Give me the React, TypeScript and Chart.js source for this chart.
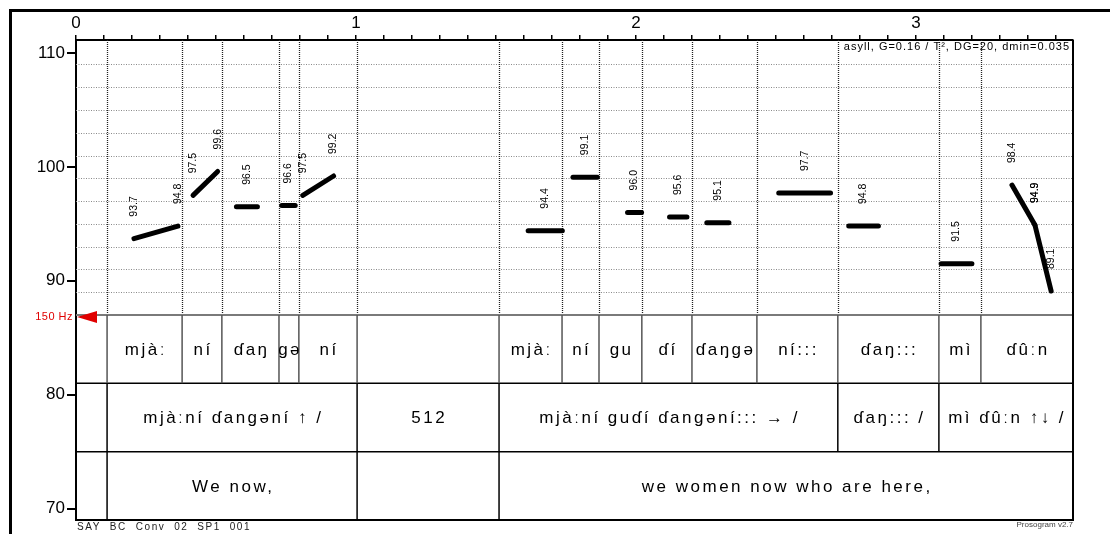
import React, { useEffect, useRef } from 'react';
import { Chart, registerables } from 'chart.js';
Chart.register(...registerables);

// ---- axes ----
const X_MIN = 0;
const X_MAX = 3.561;
const Y_MIN = 69;
const Y_MAX = 111.14;
const yTickValues = [70, 80, 90, 100, 110];
const xMajorLabels = ['0', '1', '2', '3'];
const X_MINOR_STEP = 0.1;
const X_LAST_MINOR = 3.5;

// ---- grid (semitones) ----
const gridST = [89, 91, 93, 95, 97, 99, 101, 103, 105, 107, 109];
const refLineST = 87; // 150 Hz
const refLabel = '150 Hz';
const tierLinesST = [81, 75];

// ---- tier 1: syllables ----
const syllableBounds = [0.111, 0.379, 0.521, 0.725, 0.796, 1.004, 1.511, 1.736, 1.868, 2.021, 2.2, 2.432, 2.721, 3.082, 3.232, 3.561];
const syllableLabels = ['mjàː', 'ní', 'ɗaŋ', 'gə', 'ní', '', 'mjàː', 'ní', 'gu', 'ɗí', 'ɗaŋgə', 'ní:::', 'ɗaŋ:::', 'mì', 'ɗûːn'];

// ---- tier 2: phrases ----
const phraseBounds = [0.111, 1.004, 1.511, 2.721, 3.082, 3.561];
const phraseLabels = ['mjàːní ɗangəní ↑ /', '512', 'mjàːní guɗí ɗangəní::: → /', 'ɗaŋ::: /', 'mì ɗûːn ↑↓ /'];

// ---- tier 3: translation ----
const transBounds = [0.111, 1.004, 1.511, 3.561];
const transLabels = ['We now,', '', 'we women now who are here,'];

// ---- stylized pitch segments ----
const segStartT = [0.207, 0.418, 0.573, 0.735, 0.81, 1.615, 1.775, 1.97, 2.12, 2.253, 2.51, 2.76, 3.09, 3.343, 3.425];
const segEndT = [0.364, 0.506, 0.648, 0.783, 0.92, 1.737, 1.862, 2.02, 2.182, 2.332, 2.695, 2.866, 3.2, 3.425, 3.483];
const segStartST = [93.7, 97.5, 96.5, 96.6, 97.5, 94.4, 99.1, 96.0, 95.6, 95.1, 97.7, 94.8, 91.5, 98.4, 94.9];
const segEndST = [94.8, 99.6, 96.5, 96.6, 99.2, 94.4, 99.1, 96.0, 95.6, 95.1, 97.7, 94.8, 91.5, 94.9, 89.1];

const headerText = 'asyll, G=0.16 / T², DG=20, dmin=0.035';
const fileText = 'SAY  BC  Conv  02  SP1  001';
const versionText = 'Prosogram v2.7';

const FONT = '"Liberation Sans", Arial, "DejaVu Sans", sans-serif';

function line(ctx: CanvasRenderingContext2D, x1: number, y1: number, x2: number, y2: number) {
  ctx.beginPath();
  ctx.moveTo(x1, y1);
  ctx.lineTo(x2, y2);
  ctx.stroke();
}

const prosoPlugin = {
  id: 'proso',
  beforeDatasetsDraw(chart: any) {
    const { ctx, chartArea, scales } = chart;
    const { left, right, top, bottom } = chartArea;
    const xs = scales.x, ys = scales.y;
    const X = (t: number) => xs.getPixelForValue(t);
    const Y = (v: number) => ys.getPixelForValue(v);
    ctx.save();
    // dotted horizontal grid
    ctx.strokeStyle = '#8a8a8a';
    ctx.lineWidth = 1;
    ctx.setLineDash([1, 1.5]);
    gridST.forEach((v) => {
      const py = Math.round(Y(v)) + 0.5;
      line(ctx, left, py, right, py);
    });
    // dotted verticals at syllable boundaries
    ctx.strokeStyle = '#222';
    ctx.lineWidth = 1.3;
    ctx.setLineDash([1, 1]);
    syllableBounds.slice(0, -1).forEach((t) => {
      const px = Math.round(X(t)) + 0.5;
      line(ctx, px, top, px, Y(refLineST));
    });
    ctx.setLineDash([]);
    // 150 Hz line
    ctx.strokeStyle = '#7a7a7a';
    ctx.lineWidth = 2;
    line(ctx, left, Y(refLineST), right, Y(refLineST));
    // tier horizontal lines
    ctx.strokeStyle = '#000';
    ctx.lineWidth = 1.5;
    tierLinesST.forEach((v) => line(ctx, left, Y(v), right, Y(v)));
    // tier 1 verticals
    ctx.strokeStyle = '#555';
    ctx.lineWidth = 1.5;
    syllableBounds.slice(0, -1).forEach((t) => line(ctx, X(t), Y(refLineST), X(t), Y(tierLinesST[0])));
    ctx.strokeStyle = '#000';
    phraseBounds.slice(0, -1).forEach((t) => line(ctx, X(t), Y(tierLinesST[0]), X(t), Y(tierLinesST[1])));
    transBounds.slice(0, -1).forEach((t) => line(ctx, X(t), Y(tierLinesST[1]), X(t), bottom));
    // right and bottom frame
    ctx.lineWidth = 2;
    line(ctx, right, top, right, bottom);
    line(ctx, left, bottom, right + 1, bottom);
    ctx.restore();
  },
  afterDatasetsDraw(chart: any) {
    const { ctx, chartArea, scales } = chart;
    const { left, right, top } = chartArea;
    const xs = scales.x, ys = scales.y;
    const X = (t: number) => xs.getPixelForValue(t);
    const Y = (v: number) => ys.getPixelForValue(v);
    ctx.save();
    // pitch value labels
    ctx.fillStyle = '#000';
    ctx.font = `10.5px ${FONT}`;
    ctx.textAlign = 'left';
    ctx.textBaseline = 'middle';
    const drawVal = (t: number, v: number) => {
      ctx.save();
      ctx.translate(X(t), Y(v) - 22);
      ctx.rotate(-Math.PI / 2);
      ctx.fillText(v.toFixed(1), 0, 0);
      ctx.restore();
    };
    segStartT.forEach((t0, i) => {
      const t1 = segEndT[i];
      const v0 = segStartST[i], v1 = segEndST[i];
      if (v0 === v1) {
        drawVal((t0 + t1) / 2, v0);
      } else {
        drawVal(t0, v0);
        drawVal(t1, v1);
      }
    });
    // tier texts
    ctx.fillStyle = '#000';
    ctx.font = `17px ${FONT}`;
    ctx.textAlign = 'center';
    ctx.textBaseline = 'middle';
    (ctx as any).letterSpacing = '2.5px';
    const tierText = (bounds: number[], labels: string[], vTop: number, vBot: number) => {
      const cy = (Y(vTop) + Y(vBot)) / 2 + 1;
      labels.forEach((lab, i) => {
        if (!lab) return;
        const cx = (X(bounds[i]) + X(bounds[i + 1])) / 2 + 1.2;
        ctx.fillText(lab, cx, cy);
      });
    };
    tierText(syllableBounds, syllableLabels, refLineST, tierLinesST[0]);
    tierText(phraseBounds, phraseLabels, tierLinesST[0], tierLinesST[1]);
    tierText(transBounds, transLabels, tierLinesST[1], Y_MIN);
    // header
    (ctx as any).letterSpacing = '1px';
    ctx.font = `11px ${FONT}`;
    ctx.textAlign = 'right';
    ctx.fillStyle = '#000';
    ctx.fillText(headerText, right - 3, top + 7);
    // 150 Hz marker
    const ry = Y(refLineST) + 2;
    ctx.fillStyle = '#e00000';
    (ctx as any).letterSpacing = '0.5px';
    ctx.font = `11px ${FONT}`;
    ctx.textAlign = 'right';
    ctx.fillText(refLabel, left - 3, ry);
    ctx.beginPath();
    ctx.moveTo(left + 1, ry);
    ctx.lineTo(left + 21, ry - 6);
    ctx.lineTo(left + 21, ry + 6);
    ctx.closePath();
    ctx.fill();
    ctx.restore();
  },
  afterDraw(chart: any) {
    const { ctx, chartArea } = chart;
    const { left, right, bottom } = chartArea;
    ctx.save();
    ctx.strokeStyle = '#000';
    ctx.lineWidth = 3;
    line(ctx, 10, 10.5, chart.width, 10.5);
    line(ctx, 10.5, 9, 10.5, chart.height);
    ctx.fillStyle = '#222';
    ctx.textBaseline = 'middle';
    ctx.textAlign = 'left';
    (ctx as any).letterSpacing = '1.6px';
    ctx.font = `10px ${FONT}`;
    ctx.fillText(fileText, left + 1, bottom + 7);
    (ctx as any).letterSpacing = '0px';
    ctx.font = `8px ${FONT}`;
    ctx.textAlign = 'right';
    ctx.fillStyle = '#444';
    ctx.fillText(versionText, right, bottom + 5);
    ctx.restore();
  },
};

export default function App() {
  const ref = useRef<HTMLCanvasElement | null>(null);
  useEffect(() => {
    if (!ref.current) return;
    const datasets = segStartT.map((t0, i) => ({
      data: [
        { x: t0, y: segStartST[i] },
        { x: segEndT[i], y: segEndST[i] },
      ],
      borderColor: '#000',
      borderWidth: 5,
      pointRadius: 0,
      borderCapStyle: 'round' as const,
      borderJoinStyle: 'round' as const,
      fill: false,
      tension: 0,
    }));
    const xTicks: number[] = [];
    for (let k = 0; k * X_MINOR_STEP <= X_LAST_MINOR + 1e-9; k++) xTicks.push(Math.round(k * X_MINOR_STEP * 10) / 10);
    const chart = new Chart(ref.current, {
      type: 'line',
      data: { datasets },
      options: {
        animation: false,
        responsive: true,
        maintainAspectRatio: false,
        layout: { padding: { left: 0, top: 0, right: 37, bottom: 14 } },
        plugins: { legend: { display: false }, tooltip: { enabled: false } },
        scales: {
          x: {
            type: 'linear',
            position: 'top',
            min: X_MIN,
            max: X_MAX,
            afterBuildTicks: (s: any) => {
              s.ticks = xTicks.map((v) => ({ value: v }));
            },
            afterFit: (s: any) => {
              s.height = 40;
            },
            grid: { drawOnChartArea: false, drawTicks: true, tickLength: 5, color: '#000', lineWidth: 1.5 },
            border: { display: true, color: '#000', width: 2 },
            ticks: {
              autoSkip: false,
              maxRotation: 0,
              padding: 1,
              color: '#000',
              font: { family: FONT, size: 17 },
              callback: (v: any) => {
                const n = Number(v);
                if (Math.abs(n - Math.round(n)) < 1e-6) return xMajorLabels[Math.round(n)] ?? '';
                return '';
              },
            },
          },
          y: {
            type: 'linear',
            position: 'left',
            min: Y_MIN,
            max: Y_MAX,
            afterBuildTicks: (s: any) => {
              s.ticks = yTickValues.map((v) => ({ value: v }));
            },
            afterFit: (s: any) => {
              s.width = 76;
            },
            grid: { drawOnChartArea: false, drawTicks: true, tickLength: 9, color: '#000', lineWidth: 2 },
            border: { display: true, color: '#000', width: 2 },
            ticks: {
              padding: 2,
              color: '#000',
              font: { family: FONT, size: 17 },
              callback: (v: any) => String(v),
            },
          },
        },
      },
      plugins: [prosoPlugin],
    });
    return () => chart.destroy();
  }, []);
  return (
    <div style={{ position: 'absolute', left: 0, top: 0, width: 1110, height: 534, background: '#fff' }}>
      <canvas ref={ref} />
    </div>
  );
}
